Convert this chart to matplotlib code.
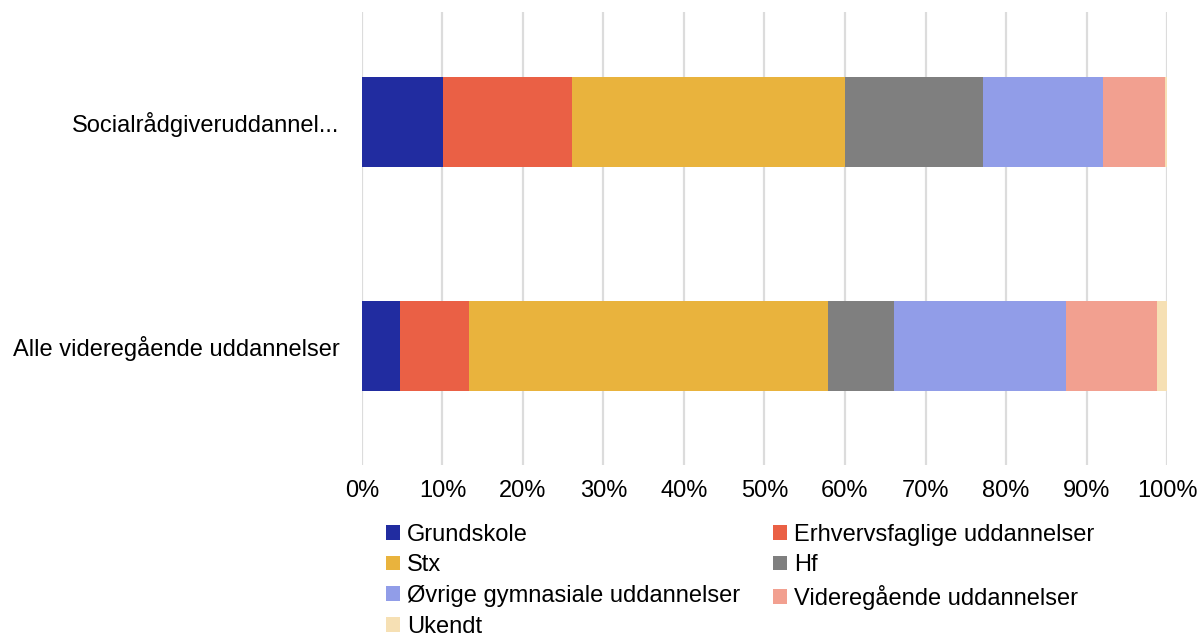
import numpy as np
import matplotlib.pyplot as plt

plt.rcParams['font.family'] = ['Liberation Sans', 'DejaVu Sans']

# categories (top to bottom)
groups = ['Socialrådgiveruddannel...', 'Alle videregående uddannelser']

# shares in percent per background education
series = ['Grundskole', 'Erhvervsfaglige uddannelser', 'Stx', 'Hf',
          'Øvrige gymnasiale uddannelser', 'Videregående uddannelser', 'Ukendt']
grundskole = [10.1, 4.7]
erhverv = [16.0, 8.6]
stx = [33.9, 44.6]
hf = [17.1, 8.2]
oevrige = [14.9, 21.3]
videregaaende = [7.7, 11.4]
ukendt = [0.3, 1.2]

colors = ['#212ca0', '#ea6045', '#e9b33d', '#7f7f7f', '#919de8', '#f2a090', '#f6e0b4']

values = [grundskole, erhverv, stx, hf, oevrige, videregaaende, ukendt]

fig = plt.figure(figsize=(12.01, 6.37), dpi=100)
ax = fig.add_axes([0.3014, 0.270, 0.6703, 0.711])

ypos = np.arange(len(groups))
left = np.zeros(len(groups))
bars = []
for name, vals, col in zip(series, values, colors):
    b = ax.barh(ypos, vals, 0.4, left=left, color=col, label=name, zorder=3)
    bars.append(b)
    left = left + np.array(vals)

ax.set_xlim(0, 100)
ax.set_ylim(1.53, -0.49)
ax.set_xticks(np.arange(0, 101, 10))
ax.set_xticklabels([f'{v}%' for v in range(0, 101, 10)], fontsize=17)
ax.set_yticks(ypos)
ax.set_yticklabels(groups, fontsize=17)
ax.tick_params(axis='both', length=0)
ax.tick_params(axis='x', pad=11)
ax.tick_params(axis='y', pad=16)
ax.grid(axis='x', color='#dcdcdc', linewidth=1.6, zorder=0)
for s in ax.spines.values():
    s.set_visible(False)

# legend filled row by row
order = [0, 2, 4, 6, 1, 3, 5]
fig.legend([bars[i] for i in order], [series[i] for i in order],
           loc='upper left', bbox_to_anchor=(0.3214, 0.178), ncol=2,
           frameon=False, fontsize=17, handlelength=0.58, handleheight=0.58,
           handletextpad=0.3, columnspacing=1.4, labelspacing=0.37,
           borderaxespad=0, borderpad=0)

fig.savefig('out.png', dpi=100)
